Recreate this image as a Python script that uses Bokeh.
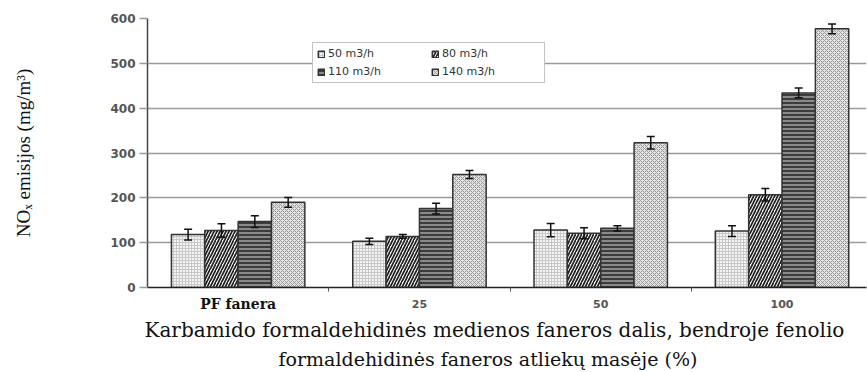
import numpy as np
from bokeh.plotting import figure
from bokeh.models import (Range1d, FixedTicker, Whisker, ColumnDataSource, Legend, LegendItem,
                          LinearAxis, Title)
from bokeh.embed import file_html
from bokeh.resources import INLINE

categories = ["PF fanera", "25", "50", "100"]
series = ["50 m3/h", "80 m3/h", "110 m3/h", "140 m3/h"]
v50 = [118, 103, 128, 126]
v80 = [127, 114, 121, 207]
v110 = [147, 176, 132, 434]
v140 = [190, 252, 323, 577]
e50 = [12, 7, 15, 12]
e80 = [15, 4, 12, 14]
e110 = [13, 12, 6, 11]
e140 = [11, 9, 14, 11]
y_ticks = [0, 100, 200, 300, 400, 500, 600]

values = [v50, v80, v110, v140]
errors = [e50, e80, e110, e140]

W, H = 867, 372
L, T, B, R = 147, 18, 85, 1
p = figure(width=W, height=H, output_backend="svg", toolbar_location=None,
           x_range=Range1d(0, 3.966), y_range=Range1d(0, 600),
           min_border_left=L, min_border_top=T, min_border_bottom=B, min_border_right=R)
p.outline_line_color = None
p.background_fill_color = "white"

bw = 0.184
styles = [
    dict(fill_color="#f4f4f4", hatch_pattern="+", hatch_color="#c8c8c8", hatch_scale=3, hatch_weight=1),
    dict(fill_color="white", hatch_pattern="/", hatch_color="#222222", hatch_scale=6, hatch_weight=1.7),
    dict(fill_color="#8a8a8a", hatch_pattern="-", hatch_color="#3c3c3c", hatch_scale=4, hatch_weight=2),
    dict(fill_color="#e2e2e2", hatch_pattern="x", hatch_color="#9a9a9a", hatch_scale=4, hatch_weight=1),
]

renderers = []
for i in range(4):
    xs = [c + 0.5 + (i - 1.5) * bw for c in range(4)]
    src = ColumnDataSource(dict(x=xs, top=values[i],
                                lo=[v - e for v, e in zip(values[i], errors[i])],
                                hi=[v + e for v, e in zip(values[i], errors[i])]))
    r = p.vbar(x="x", top="top", width=bw, bottom=0, source=src,
               line_color="#333333", line_width=1.5, **styles[i])
    renderers.append(r)
    w = Whisker(base="x", lower="lo", upper="hi", source=src, line_color="#111111",
                line_width=1.5, level="overlay")
    for hd in (w.upper_head, w.lower_head):
        hd.size = 8
        hd.line_width = 1.5
        hd.line_color = "#111111"
    p.add_layout(w)

# y axis
p.yaxis.ticker = FixedTicker(ticks=y_ticks)
p.yaxis.axis_line_color = "#444444"
p.yaxis.axis_line_width = 1.5
p.yaxis.major_tick_out = 8
p.yaxis.major_tick_in = 0
p.yaxis.major_tick_line_color = "#999999"
p.yaxis.major_tick_line_width = 1.5
p.yaxis.minor_tick_line_color = None
p.yaxis.major_label_text_font = "DejaVu Sans"
p.yaxis.major_label_text_font_style = "bold"
p.yaxis.major_label_text_font_size = "12px"
p.yaxis.major_label_text_color = "#555555"
p.yaxis.major_label_standoff = 4
p.yaxis.axis_label = "NOₓ emisijos (mg/m³)"
p.yaxis.axis_label_text_font = "Liberation Serif"
p.yaxis.axis_label_text_font_style = "normal"
p.yaxis.axis_label_text_font_size = "19px"
p.yaxis.axis_label_text_color = "#111111"
p.yaxis.axis_label_standoff = 73

# x axis: first category label (bold serif) + boundary ticks
p.xaxis.ticker = FixedTicker(ticks=[0.5], minor_ticks=[1, 2, 3])
p.xaxis.major_label_overrides = {0.5: categories[0]}
p.xaxis.major_label_text_font = "DejaVu Serif"
p.xaxis.major_label_text_font_style = "bold"
p.xaxis.major_label_text_font_size = "14px"
p.xaxis.major_label_text_color = "#111111"
p.xaxis.major_label_standoff = 4
p.xaxis.axis_line_color = "#222222"
p.xaxis.axis_line_width = 1.5
p.xaxis.major_tick_line_color = None
p.xaxis.major_tick_out = 0
p.xaxis.major_tick_in = 0
p.xaxis.minor_tick_out = 4
p.xaxis.minor_tick_in = 0
p.xaxis.minor_tick_line_color = "#555555"

# x axis: other category labels (sans), pulled up into the same row
ax2 = LinearAxis(ticker=FixedTicker(ticks=[1.5, 2.5, 3.5], minor_ticks=[]),
                 major_label_overrides={1.5: categories[1], 2.5: categories[2], 3.5: categories[3]})
ax2.axis_line_color = None
ax2.major_tick_line_color = None
ax2.minor_tick_line_color = None
ax2.major_tick_out = 0
ax2.major_tick_in = 0
ax2.major_label_text_font = "DejaVu Sans"
ax2.major_label_text_font_style = "bold"
ax2.major_label_text_font_size = "11px"
ax2.major_label_text_color = "#555555"
ax2.major_label_standoff = -15
p.add_layout(ax2, "below")

p.xgrid.grid_line_color = None
p.ygrid.ticker = FixedTicker(ticks=y_ticks)
p.ygrid.grid_line_color = "#9a9a9a"
p.ygrid.grid_line_width = 1.5

# x axis title (two lines)
t1 = Title(text="Karbamido formaldehidinės medienos faneros dalis, bendroje fenolio",
           align="left", offset=-3, text_font="DejaVu Serif", text_font_size="20px",
           text_font_style="normal", text_color="#111111", standoff=2)
t2 = Title(text="formaldehidinės faneros atliekų masėje (%)",
           align="left", offset=131, text_font="DejaVu Serif", text_font_size="19px",
           text_font_style="normal", text_color="#111111", standoff=6)
p.add_layout(t1, "below")
p.add_layout(t2, "below")

legend_order = [0, 2, 1, 3]
legend = Legend(items=[LegendItem(label=series[k], renderers=[renderers[k]]) for k in legend_order],
                ncols=2, location=(165, 204))
legend.label_text_font = "DejaVu Sans"
legend.label_text_font_size = "11px"
legend.label_text_color = "#333333"
legend.glyph_width = 8
legend.glyph_height = 8
legend.label_height = 11
legend.label_standoff = 3
legend.padding = 4
legend.spacing = 5
legend.margin = 0
legend.border_line_color = "#888888"
legend.border_line_width = 1.5
legend.background_fill_color = "white"
legend.background_fill_alpha = 1.0
legend.label_width = 98
p.add_layout(legend, "center")

open("out.html", "w").write(file_html(p, INLINE))
